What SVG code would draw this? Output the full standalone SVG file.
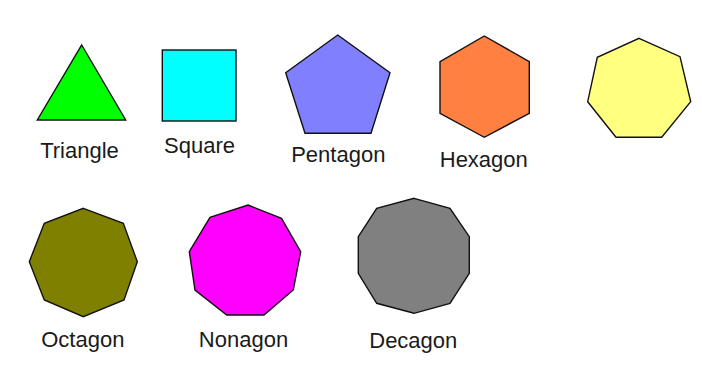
<svg xmlns="http://www.w3.org/2000/svg" width="702" height="368" viewBox="0 0 702 368">
<style>
.s{stroke:#111;stroke-width:1.4;stroke-linejoin:miter}
.t{font-family:"Liberation Sans","Noto Sans",Arial,sans-serif;font-size:22px;fill:#1a1a1a;text-anchor:middle}
</style>
<rect width="702" height="368" fill="#fff"/>
<g id="triangle">
<polygon class="s" fill="#00ff00" points="81.7,45 125.7,120 37.3,120"/>
<text class="t" x="79.5" y="158">Triangle</text>
</g>
<g id="square">
<rect class="s" fill="#00ffff" x="162.3" y="50" width="73.7" height="71"/>
<text class="t" x="199.5" y="152.5">Square</text>
</g>
<g id="pentagon">
<polygon class="s" fill="#8080ff" points="337.7,35 390,72.7 371,133.3 305,133.3 285.7,72.7"/>
<text class="t" x="338.3" y="161.5">Pentagon</text>
</g>
<g id="hexagon">
<polygon class="s" fill="#ff8040" points="484.3,36 529.3,61.7 529.3,113.3 484.3,137.3 440,113.3 440,61.7"/>
<text class="t" x="483.8" y="166.5">Hexagon</text>
</g>
<g id="heptagon">
<polygon class="s" fill="#ffff80" points="639,38.3 680,56.7 690.7,101.7 661.7,137.3 616,137.3 587.7,101.7 597.3,57.3"/>
</g>
<g id="octagon">
<polygon class="s" fill="#808000" points="83.3,208.3 123.3,223.3 137.3,261.7 124,300 83.3,316.7 44.3,300 29.3,261.7 44.3,223.3"/>
<text class="t" x="82.8" y="346.5">Octagon</text>
</g>
<g id="nonagon">
<polygon class="s" fill="#ff00ff" points="248,205 281.5,218.3 300.7,251.7 293.3,290 264,315 226.7,315 195,290 189.3,251.7 210,217.3"/>
<text class="t" x="243.5" y="347">Nonagon</text>
</g>
<g id="decagon">
<polygon class="s" fill="#808080" points="414,198.3 450,208.3 469.3,236.7 469.3,273.3 450,303.3 414,313.3 376.7,303.3 358.3,273.3 358.3,236.7 376.7,208.3"/>
<text class="t" x="413.3" y="348">Decagon</text>
</g>
<g id="connectors"></g>
</svg>
